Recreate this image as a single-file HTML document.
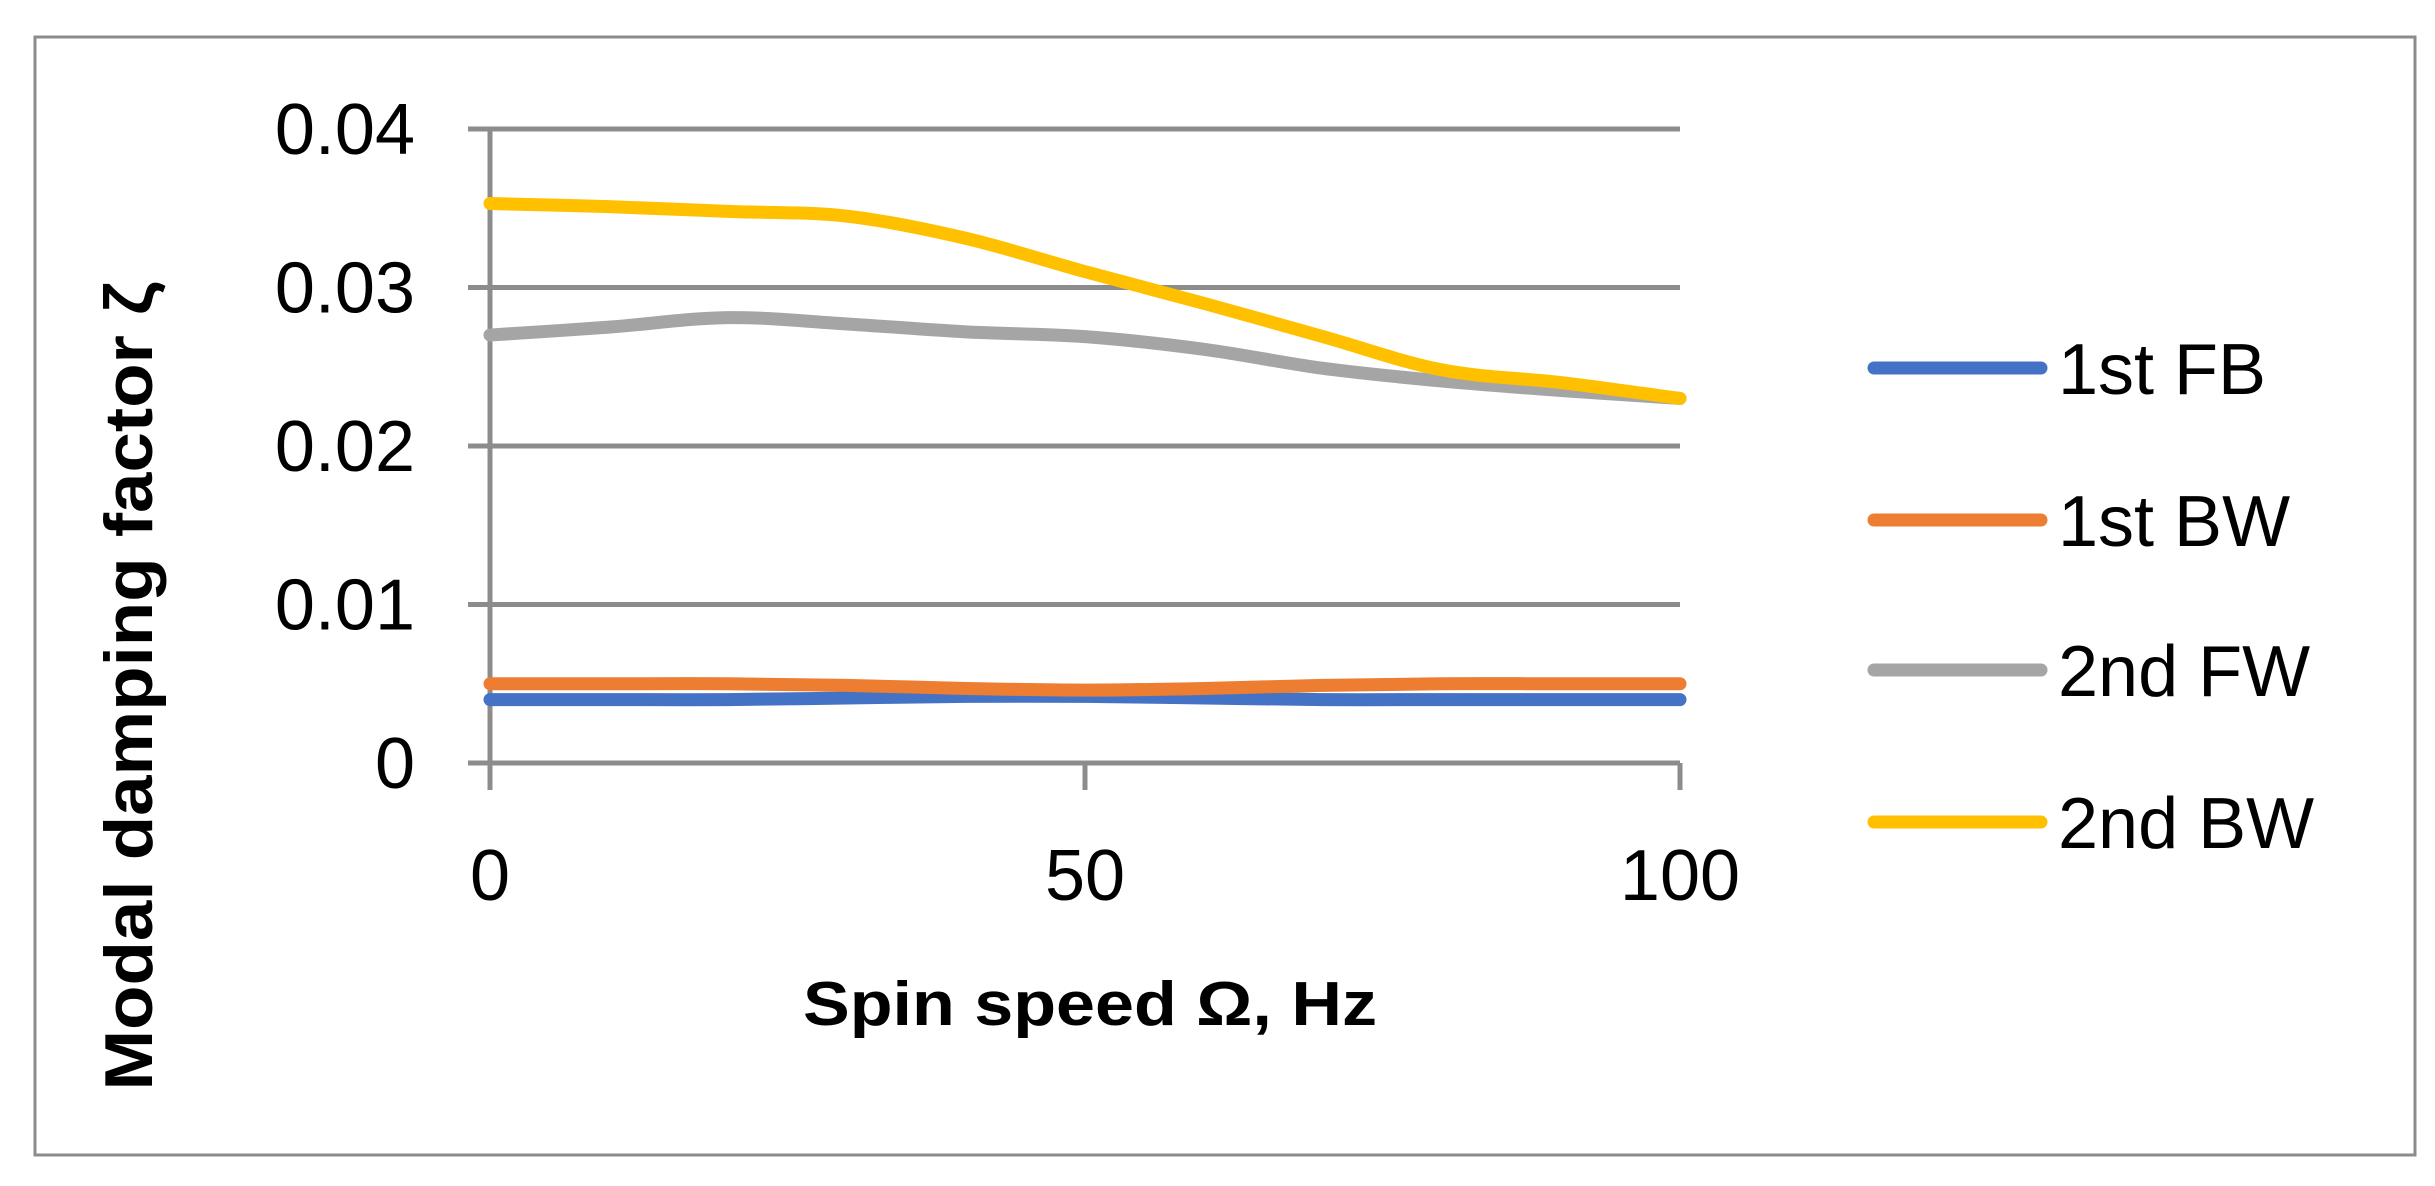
<!DOCTYPE html>
<html><head><meta charset="utf-8"><style>
html,body{margin:0;padding:0;background:#fff;}
svg{display:block;font-family:"Liberation Sans",sans-serif;}
</style></head><body>
<svg id="chart" width="2435" height="1186" viewBox="0 0 2435 1186">
<rect x="35" y="37" width="2380" height="1118" fill="#fff" stroke="#8c8c8c" stroke-width="3"/>
<g id="grid"></g>
<g id="axes"></g>
<g id="series"></g>
<g id="legend"></g>
<text x="1090" y="1025" font-size="62" font-weight="bold" text-anchor="middle" textLength="574" lengthAdjust="spacingAndGlyphs">Spin speed Ω, Hz</text>
<text transform="translate(152,686) rotate(-90)" font-size="68" font-weight="bold" text-anchor="middle" textLength="809" lengthAdjust="spacingAndGlyphs">Modal damping factor ζ</text>
</svg>
<script>
const xValues = [0, 10, 20, 30, 40, 50, 60, 70, 80, 90, 100];
const seriesNames = ["1st FB", "1st BW", "2nd FW", "2nd BW"];
const seriesColors = ["#4472c4", "#ed7d31", "#a5a5a5", "#ffc000"];
const fb1 = [0.004, 0.004, 0.004, 0.0041, 0.0042, 0.0042, 0.0041, 0.004, 0.004, 0.004, 0.004];
const bw1 = [0.005, 0.005, 0.005, 0.0049, 0.0047, 0.0046, 0.0047, 0.0049, 0.005, 0.005, 0.005];
const fw2 = [0.027, 0.0275, 0.0281, 0.0277, 0.0272, 0.0269, 0.0261, 0.0249, 0.0241, 0.0235, 0.023];
const bw2 = [0.0353, 0.0351, 0.0348, 0.0345, 0.0331, 0.031, 0.029, 0.0269, 0.0248, 0.024, 0.023];
const yTicks = [0, 0.01, 0.02, 0.03, 0.04];
const yTickLabels = ["0", "0.01", "0.02", "0.03", "0.04"];
const xTicks = [0, 50, 100];
const xTickLabels = ["0", "50", "100"];

const NS = "http://www.w3.org/2000/svg";
const X0 = 490, X1 = 1680, Y0 = 763, Y1 = 129;
function xs(v){ return X0 + (v - 0) / 100 * (X1 - X0); }
function ys(v){ return Y0 - (v - 0) / 0.04 * (Y0 - Y1); }
function mk(tag, attrs, parent){
  const e = document.createElementNS(NS, tag);
  for (const k in attrs) e.setAttribute(k, attrs[k]);
  parent.appendChild(e);
  return e;
}
const grid = document.getElementById("grid");
const axes = document.getElementById("axes");
yTicks.forEach((t, i) => {
  const l = mk("line", {x1: 468, x2: X1, y1: ys(t), y2: ys(t), stroke: "#8c8c8c", "stroke-width": 5}, grid);
  
  
  const tx = mk("text", {x: 415, y: ys(t) + 25, "font-size": 72, "text-anchor": "end"}, axes);
  tx.textContent = yTickLabels[i];
  
  
});
const ya = mk("line", {x1: X0, x2: X0, y1: Y1, y2: 790, stroke: "#8c8c8c", "stroke-width": 5}, axes);


xTicks.forEach((t, i) => {
  const l = mk("line", {x1: xs(t), x2: xs(t), y1: Y0, y2: 790, stroke: "#8c8c8c", "stroke-width": 5}, axes);
  
  
  const tx = mk("text", {x: xs(t), y: 900, "font-size": 72, "text-anchor": "middle"}, axes);
  tx.textContent = xTickLabels[i];
  
  
});
function smoothPath(vals){
  const p = vals.map((v, i) => [xs(xValues[i]), ys(v)]);
  let d = "M" + p[0][0] + "," + p[0][1];
  for (let i = 0; i < p.length - 1; i++){
    const a = p[i - 1] || p[i], b = p[i], c = p[i + 1], e = p[i + 2] || c;
    const c1x = b[0] + (c[0] - a[0]) / 6, c1y = b[1] + (c[1] - a[1]) / 6;
    const c2x = c[0] - (e[0] - b[0]) / 6, c2y = c[1] - (e[1] - b[1]) / 6;
    d += " C" + c1x + "," + c1y + " " + c2x + "," + c2y + " " + c[0] + "," + c[1];
  }
  return d;
}
const allSeries = [fb1, bw1, fw2, bw2];
const seriesG = document.getElementById("series");
const legend = document.getElementById("legend");
const legendY = [368, 520, 670, 822];
allSeries.forEach((vals, i) => {
  const path = mk("path", {d: smoothPath(vals), fill: "none", stroke: seriesColors[i], "stroke-width": 13, "stroke-linecap": "round", "stroke-linejoin": "round"}, seriesG);
  
  
  const ll = mk("line", {x1: 1874, x2: 2041, y1: legendY[i], y2: legendY[i], stroke: seriesColors[i], "stroke-width": 13, "stroke-linecap": "round"}, legend);
  
  
  const lt = mk("text", {x: 2058, y: legendY[i] + 26, "font-size": 72}, legend);
  lt.textContent = seriesNames[i];
  
  
});
</script>
</body></html>
